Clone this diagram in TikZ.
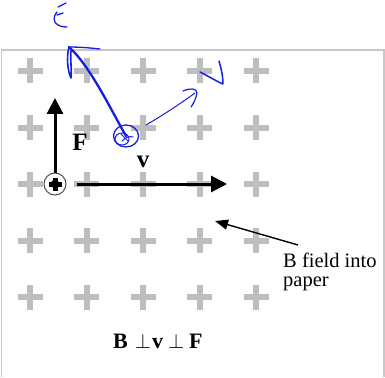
\documentclass[tikz,border=0pt]{standalone}
\usepackage{fontspec}
\setmainfont{Liberation Serif}
\usetikzlibrary{arrows.meta}
\definecolor{plusgray}{RGB}{190,190,190}
\definecolor{boxgray}{RGB}{200,200,200}
\definecolor{ink}{RGB}{20,30,230}
\tikzset{
  gplus/.pic={\fill[plusgray] (-12.5,-3) rectangle (12.5,3); \fill[plusgray] (-3,-12.5) rectangle (3,12.5);},
  bigarrow/.style={line width=3pt, -{Triangle[length=16pt,width=16pt]}},
  thinarrow/.style={line width=1.4pt, -{Triangle[length=13pt,width=10pt]}},
  blueink/.style={draw=ink, line cap=round, line join=round},
  lbl/.style={font=\fontsize{25}{25}\selectfont\bfseries, inner sep=0pt},
}
\begin{document}
\begin{tikzpicture}[x=1pt,y=-1pt]
\useasboundingbox (0,0) rectangle (385,377);
\fill[white] (0,0) rectangle (385,377);
% frame
\draw[boxgray, line width=1.5pt] (1.5,377) -- (1.5,50) -- (384,50) -- (384,377);
% field crosses
\foreach \i in {0,...,4}
  \foreach \j in {0,...,4}
    \pic at ({30+56.5*\i},{71+56.6*\j}) {gplus};
% charge
\node[circle, draw=black!70, line width=1pt, fill=white, minimum size=22pt, inner sep=0pt] (q) at (55,184) {};
\fill[black] (48.5,181.5) rectangle (61.5,186.5);
\fill[black] (52.5,177.5) rectangle (57.5,190.5);
\fill[black] (q.center) circle (4.3pt);
% F and v
\coordinate (Ftip) at (55,98);
\coordinate (vtip) at (227,184);
\draw[bigarrow] (q.north) -- (Ftip);
\draw[bigarrow, shorten <=10pt] (q.east) -- (vtip);
\node[lbl, anchor=base] (F) at (80,150) {F};
\node[lbl, anchor=base] (v) at (143,167) {v};
% B field label
\node[anchor=north west, align=left, inner sep=0pt, font=\fontsize{20.5}{19}\selectfont] (Btext) at (283,253) {B field into\\paper};
\coordinate (Btail) at (298,245);
\coordinate (Btip) at (215,221);
\draw[thinarrow] (Btail) -- (Btip);
% bottom relation
\node[anchor=base west, inner sep=0pt, font=\fontsize{22}{22}\selectfont\bfseries] (rel) at (113,348) {B\hspace{7pt}$\perp$\hspace{1pt}v\hspace{5pt}$\perp$\hspace{5pt}F};
% blue hand annotations
\draw[blueink, line width=1.3pt] (58,7) -- (66,3);
\draw[blueink, line width=1.3pt] (57,15) -- (63,13);
\draw[blueink, line width=1.3pt] (57,12) .. controls (53,16) and (53,23) .. (58,25) .. controls (61,27) and (64,27) .. (67,27);
\coordinate (qa) at (126,136);
\coordinate (Etip) at (69,47);
\draw[blueink, line width=2.3pt] (qa) .. controls (110,108) and (90,66) .. (Etip);
\draw[blueink, line width=1.6pt] (Etip) .. controls (66,58) and (68,72) .. (71,78) .. controls (72,70) and (70,58) .. (71,51);
\draw[blueink, line width=1.3pt] (Etip) .. controls (80,47) and (91,48) .. (100,49);
\draw[blueink, line width=1.3pt] (qa) ellipse [x radius=12.5pt, y radius=11pt];
\draw[blueink, line width=1pt] (122,139) ellipse [x radius=7pt, y radius=6pt];
\draw[blueink, line width=1pt] (121,134) -- (128,141);
\draw[blueink, line width=1pt] (122,141) .. controls (126,137) and (130,136) .. (133,137);
\coordinate (vs) at (146,125);
\coordinate (vh) at (195,93);
\draw[blueink, line width=1pt] (vs) .. controls (160,117) and (180,104) .. (vh);
\draw[blueink, line width=1.2pt] (183,91) .. controls (190,88) and (197,88) .. (197,93) .. controls (196,98) and (194,103) .. (191,107);
\draw[blueink, line width=1.5pt] (200,72) .. controls (208,76) and (216,81) .. (223,84) .. controls (223,76) and (221,68) .. (219,61);
\end{tikzpicture}
\end{document}
